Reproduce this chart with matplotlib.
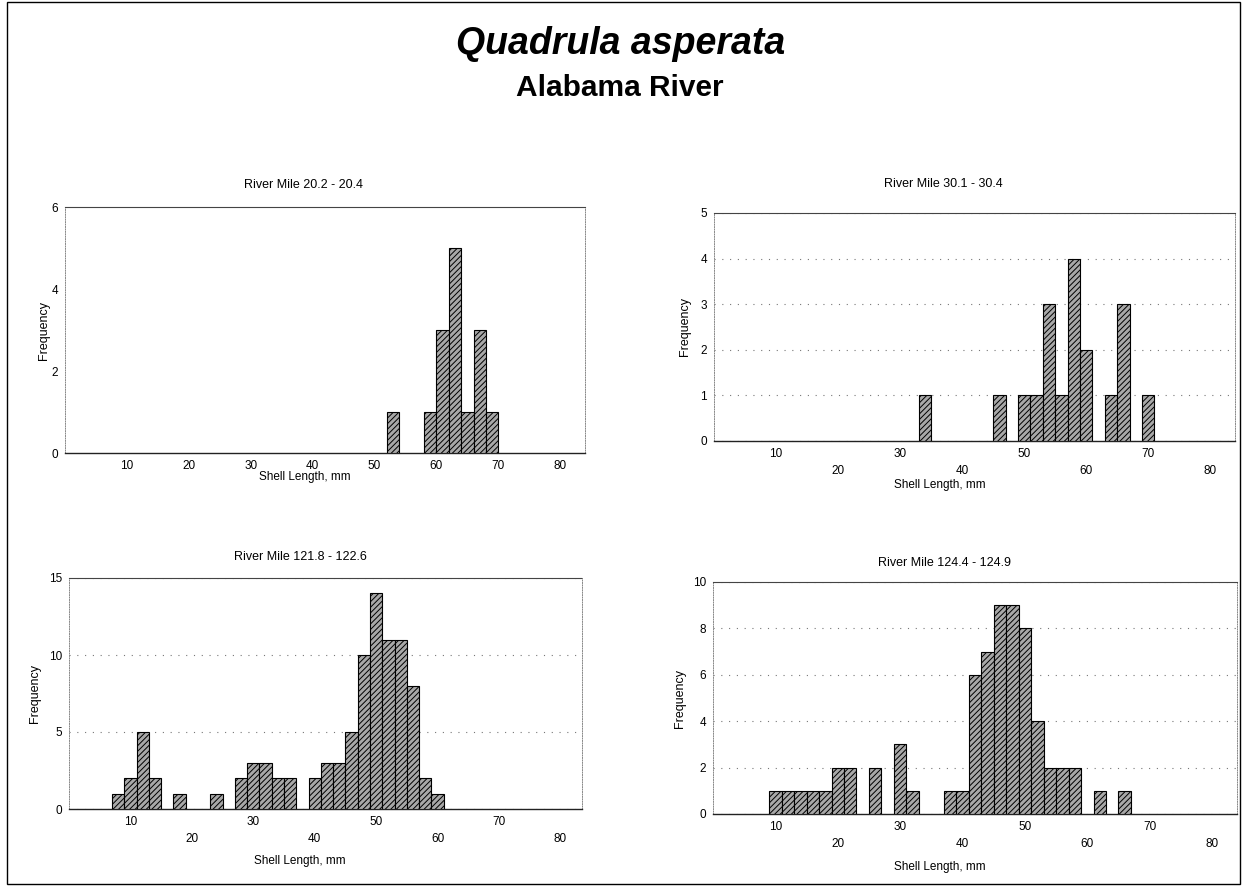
import matplotlib
matplotlib.use("Agg")
import matplotlib.pyplot as plt
from matplotlib.patches import Rectangle

plt.rcParams['font.family'] = ['Liberation Sans', 'DejaVu Sans']
plt.rcParams['hatch.linewidth'] = 0.7
plt.rcParams['hatch.color'] = '#222222'

# ---- data (bin centres in mm, 2 mm bins) ----
titles = ["River Mile 20.2 - 20.4", "River Mile 30.1 - 30.4",
          "River Mile 121.8 - 122.6", "River Mile 124.4 - 124.9"]

rm20_len = [53, 59, 61, 63, 65, 67, 69]
rm20_freq = [1, 1, 3, 5, 1, 3, 1]

rm30_len = [34, 46, 50, 52, 54, 56, 58, 60, 64, 66, 70]
rm30_freq = [1, 1, 1, 1, 3, 1, 4, 2, 1, 3, 1]

rm121_len = [8, 10, 12, 14, 18, 24, 28, 30, 32, 34, 36, 40, 42, 44, 46, 48,
             50, 52, 54, 56, 58, 60]
rm121_freq = [1, 2, 5, 2, 1, 1, 2, 3, 3, 2, 2, 2, 3, 3, 5, 10, 14, 11, 11, 8,
              2, 1]

rm124_len = [10, 12, 14, 16, 18, 20, 22, 26, 30, 32, 38, 40, 42, 44, 46, 48,
             50, 52, 54, 56, 58, 62, 66]
rm124_freq = [1, 1, 1, 1, 1, 2, 2, 2, 3, 1, 1, 1, 6, 7, 9, 9, 8, 4, 2, 2, 2,
              1, 1]

x_ticks = [10, 20, 30, 40, 50, 60, 70, 80]
y_ticks_20 = [0, 2, 4, 6]
y_ticks_30 = [0, 1, 2, 3, 4, 5]
y_ticks_121 = [0, 5, 10, 15]
y_ticks_124 = [0, 2, 4, 6, 8, 10]

W, H = 1243, 891
fig = plt.figure(figsize=(W / 100, H / 100), dpi=100)
fig.patch.set_facecolor('white')


def px_axes(l, r, t, b):
    return fig.add_axes([l / W, (H - b) / H, (r - l) / W, (b - t) / H])


# outer frame
fig.add_artist(Rectangle((7 / W, (H - 884) / H), (1240 - 7) / W, (884 - 2) / H,
                         transform=fig.transFigure, fill=False,
                         edgecolor='black', linewidth=1.0))

fig.text(621 / W, 1 - 44 / H, "Quadrula asperata", ha='center', va='center',
         fontsize=27, fontweight='bold', fontstyle='italic')
fig.text(620 / W, 1 - 88 / H, "Alabama River", ha='center', va='center',
         fontsize=21.5, fontweight='bold')

panels = [
    dict(box=(65, 585, 207, 453), x=rm20_len, y=rm20_freq, yt=y_ticks_20,
         title=titles[0], tpos=(303, 185), xl=(305, 477), yl=44,
         xmax=84, stagger=False, grid=False),
    dict(box=(714, 1235, 213, 441), x=rm30_len, y=rm30_freq, yt=y_ticks_30,
         title=titles[1], tpos=(943, 184), xl=(940, 485), yl=685,
         xmax=84, stagger=True, grid=True),
    dict(box=(69, 582, 578, 809), x=rm121_len, y=rm121_freq, yt=y_ticks_121,
         title=titles[2], tpos=(300, 557), xl=(300, 861), yl=35,
         xmax=83.5, stagger=True, grid=True),
    dict(box=(713, 1237, 582, 814), x=rm124_len, y=rm124_freq, yt=y_ticks_124,
         title=titles[3], tpos=(945, 563), xl=(940, 867), yl=680,
         xmax=84, stagger=True, grid=True),
]

for p in panels:
    l, r, t, b = p['box']
    ax = px_axes(l, r, t, b)
    ax.bar(p['x'], p['y'], width=2, color='#a8a8a8', edgecolor='black',
           linewidth=0.8, hatch='//////', zorder=3)
    ax.set_xlim(0, p['xmax'])
    ax.set_ylim(0, p['yt'][-1])
    ax.set_yticks(p['yt'])
    ax.tick_params(axis='y', length=0, pad=5, labelsize=8.5)
    if p['stagger']:
        ax.set_xticks(x_ticks[0::2])
        ax.set_xticks(x_ticks[1::2], minor=True)
        ax.set_xticklabels([str(v) for v in x_ticks[0::2]])
        ax.set_xticklabels([str(v) for v in x_ticks[1::2]], minor=True)
        ax.tick_params(axis='x', which='major', length=0, pad=5, labelsize=8.5)
        ax.tick_params(axis='x', which='minor', length=0, pad=17, labelsize=8.5)
    else:
        ax.set_xticks(x_ticks)
        ax.tick_params(axis='x', length=0, pad=5, labelsize=8.5)
    if p['grid']:
        ax.yaxis.grid(True, linestyle=(0, (1, 6)), color='#777777',
                      linewidth=0.8, zorder=0)
    for side in ['left', 'right']:
        ax.spines[side].set_linestyle((0, (1, 1.5)))
        ax.spines[side].set_color('#888888')
        ax.spines[side].set_linewidth(0.7)
    ax.spines['top'].set_linestyle((0, (2, 1)))
    ax.spines['top'].set_color('#444444')
    ax.spines['top'].set_linewidth(0.8)
    ax.spines['bottom'].set_color('#222222')
    ax.spines['bottom'].set_linewidth(1.0)
    ax.set_facecolor('white')

    fig.text(p['tpos'][0] / W, 1 - p['tpos'][1] / H, p['title'],
             ha='center', va='center', fontsize=9)
    fig.text(p['xl'][0] / W, 1 - p['xl'][1] / H, "Shell Length, mm",
             ha='center', va='center', fontsize=8.5)
    fig.text(p['yl'] / W, 1 - ((t + b) / 2) / H, "Frequency", ha='center',
             va='center', rotation=90, fontsize=9)

fig.savefig("out.png", dpi=100, facecolor='white')
